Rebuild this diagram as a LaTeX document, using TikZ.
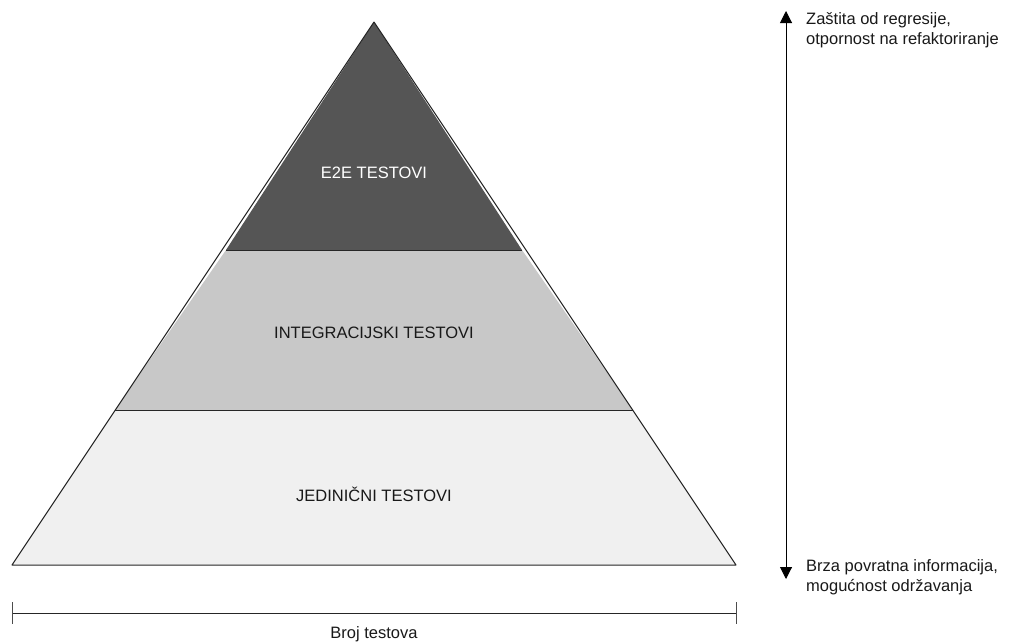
\documentclass[tikz,border=0pt]{standalone}
\usepackage{fontspec}
\setmainfont{Liberation Sans}
\usetikzlibrary{arrows.meta}
\definecolor{topc}{HTML}{555555}
\definecolor{midc}{HTML}{C8C8C8}
\definecolor{botc}{HTML}{F0F0F0}
\begin{document}
\begin{tikzpicture}[x=1pt,y=-1pt,
  layer/.style={draw=black!85,line width=1pt,line join=round},
  lbl/.style={font=\fontsize{16.5}{20}\selectfont,text=black!90},
  side/.style={font=\fontsize{16.5}{20}\selectfont,align=left,anchor=west,inner sep=0pt,text=black!90}]
\useasboundingbox (0,0) rectangle (1022,643);
\coordinate (apex) at (374,22);
\coordinate (bl) at (12,565);
\coordinate (br) at (736,565);
\coordinate (ml) at (115,410);
\coordinate (mr) at (633,410);
\coordinate (tl) at (226,250);
\coordinate (tr) at (522,250);
\fill[botc] (bl) -- (br) -- (mr) -- (ml) -- cycle;
\fill[midc] (ml) -- (mr) -- (tr) -- (tl) -- cycle;
\fill[topc] (tl) -- (tr) -- (apex) -- cycle;
\draw[layer] (ml) -- (mr);
\draw[layer] (tl) -- (tr);
\draw[layer] (bl) -- (br) -- (apex) -- cycle;
\node[lbl,text=white] (e2e) at (374,173) {E2E TESTOVI};
\node[lbl] (integ) at (374,333) {INTEGRACIJSKI TESTOVI};
\node[lbl] (jed) at (374,494) {JEDINIČNI TESTOVI};
% axis
\coordinate (a1) at (12,613);
\coordinate (a2) at (736,613);
\draw[black!85,line width=0.9pt] (a1) -- (a2);
\draw[black!70,line width=0.9pt] (12,602) -- (12,624);
\draw[black!70,line width=0.9pt] (736,602) -- (736,624);
\node[lbl,anchor=north,inner sep=0pt] (broj) at (374,626) {Broj testova};
% vertical arrow
\coordinate (v1) at (786,11);
\coordinate (v2) at (786,579);
\draw[line width=1pt,{Triangle[length=12pt,width=12pt]}-{Triangle[length=12pt,width=12pt]}] (v1) -- (v2);
\node[side] (top) at (806,30) {Zaštita od regresije,\\otpornost na refaktoriranje};
\node[side] (bot) at (806,577) {Brza povratna informacija,\\mogućnost održavanja};
\end{tikzpicture}
\end{document}
